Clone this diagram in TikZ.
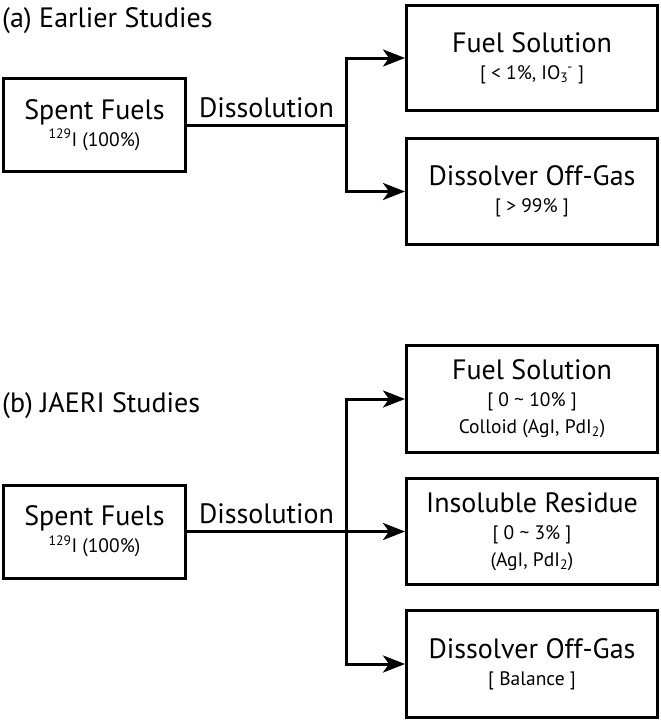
\documentclass[tikz,border=0pt]{standalone}
\usepackage{fontspec}
\setmainfont{PT Sans}
\usetikzlibrary{arrows.meta}
% second line of a box, a size smaller
\newcommand{\subline}{\fontsize{19.5}{27}\selectfont}
\newcommand{\ionsub}[2]{\textsubscript{#1}\kern-0.05em\textsuperscript{#2}}

\begin{document}
\begin{tikzpicture}[x=1pt,y=-1pt,
  box/.style={draw,line width=3pt,inner sep=0pt,align=center,
              font=\fontsize{28}{27}\selectfont},
  stage/.style={box,minimum width=251pt},
  source/.style={box,minimum width=182pt,minimum height=93pt},
  flow/.style={line width=3pt,-{Stealth[length=22pt,width=17pt,inset=6pt]}},
  title/.style={anchor=base west,inner sep=0pt,font=\fontsize{28}{32}\selectfont}]
\useasboundingbox (0,0) rectangle (661,723);

% (a) earlier studies
\node[title] (titleA) at (2,27) {(a) Earlier Studies};
\node[source] (spentA) at (94.5,125)
  {Spent Fuels\\{\subline\textsuperscript{129}I (100\%)}};
\node[stage,minimum height=105pt] (fuelA) at (532,58)
  {Fuel Solution\\{\subline[ < 1\%, IO\ionsub{3}{-} ]}};
\node[stage,minimum height=106pt] (offgasA) at (532,191.5)
  {Dissolver Off-Gas\\{\subline[ > 99\% ]}};
\coordinate (jA) at (346,125);
\draw[line width=3pt] (spentA.east) -- node[midway,anchor=base,yshift=8pt,
  font=\fontsize{28}{32}\selectfont] (dissA) {Dissolution} (jA);
\draw[flow] (jA) |- (fuelA.west);
\draw[flow] (jA) |- (offgasA.west);

% (b) JAERI studies
\node[title] (titleB) at (2,412) {(b) JAERI Studies};
\node[source] (spentB) at (94.5,531.5)
  {Spent Fuels\\{\subline\textsuperscript{129}I (100\%)}};
\node[stage,minimum height=107pt] (fuelB) at (532,399)
  {Fuel Solution\\{\subline[ 0 \textasciitilde{} 10\% ]}\\{\subline Colloid (AgI, PdI\textsubscript{2})}};
\node[stage,minimum height=106pt] (residueB) at (532,531.5)
  {Insoluble Residue\\{\subline[ 0 \textasciitilde{} 3\% ]}\\{\subline(AgI, PdI\textsubscript{2})}};
\node[stage,minimum height=107pt] (offgasB) at (532,664)
  {Dissolver Off-Gas\\{\subline[ Balance ]}};
\coordinate (jB) at (346,531.5);
\draw[line width=3pt] (spentB.east) -- node[midway,anchor=base,yshift=8pt,
  font=\fontsize{28}{32}\selectfont] (dissB) {Dissolution} (jB);
\draw[flow] (jB) |- (fuelB.west);
\draw[flow] (jB) -- (residueB.west);
\draw[flow] (jB) |- (offgasB.west);
\end{tikzpicture}
\end{document}
